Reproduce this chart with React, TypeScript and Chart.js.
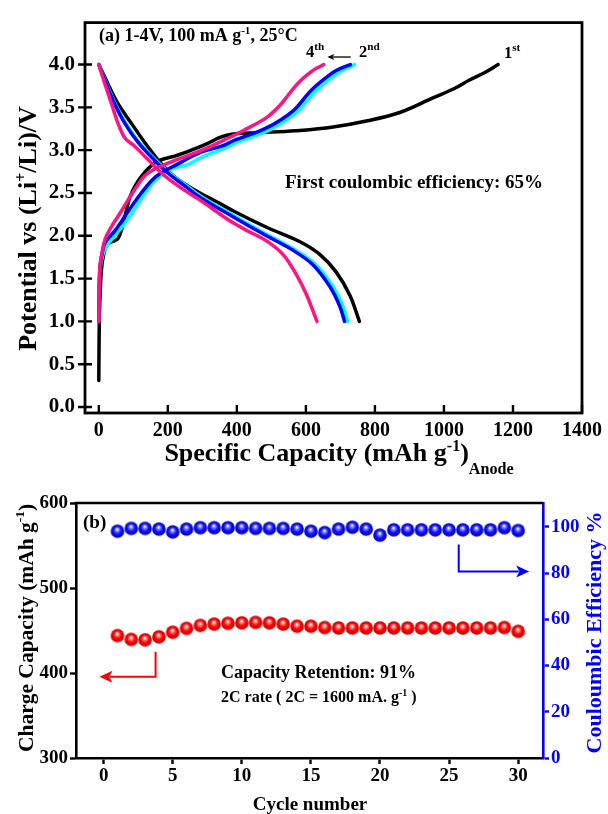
import React, { useEffect, useRef } from "react";
import { Chart, registerables } from "chart.js";
Chart.register(...registerables);

const SERIF = '"Liberation Serif", "Times New Roman", Times, serif';

// ---------------- Panel (a): charge / discharge profiles ----------------
const capTicks = [0, 200, 400, 600, 800, 1000, 1200, 1400];
const voltTicks = [0, 0.5, 1, 1.5, 2, 2.5, 3, 3.5, 4];

// 1st cycle (black)
const c1ChargeCap = [0, 0.5, 1.5, 4, 8, 14, 22, 32, 45, 56, 66, 76, 90, 109, 133, 152, 170, 190, 220, 268, 316, 351, 390, 440, 486, 583, 679, 775, 872, 968, 1030, 1074, 1120, 1157];
const c1ChargeV = [0.31, 0.6, 1.0, 1.35, 1.62, 1.78, 1.88, 1.92, 1.94, 1.97, 2.07, 2.23, 2.45, 2.61, 2.74, 2.82, 2.87, 2.9, 2.93, 3.0, 3.08, 3.15, 3.19, 3.2, 3.21, 3.23, 3.27, 3.34, 3.44, 3.61, 3.72, 3.82, 3.91, 4.0];
const c1DisCap = [0, 27, 56, 95, 133, 177, 205, 240, 293, 340, 390, 486, 583, 641, 689, 728, 755];
const c1DisV = [4.0, 3.77, 3.54, 3.31, 3.09, 2.86, 2.74, 2.63, 2.5, 2.4, 2.29, 2.1, 1.93, 1.78, 1.57, 1.3, 1.0];

// 2nd cycle (cyan)
const c2ChargeCap = [0, 0.5, 1.5, 4, 12, 23, 50, 76, 105, 133, 162, 210, 258, 300, 364, 400, 496, 573, 621, 660, 700, 741];
const c2ChargeV = [1.0, 1.22, 1.42, 1.62, 1.78, 1.88, 2.02, 2.15, 2.32, 2.49, 2.64, 2.78, 2.83, 2.92, 3.02, 3.09, 3.24, 3.44, 3.66, 3.8, 3.92, 4.0];
const c2DisCap = [0, 23, 48, 79, 117, 166, 206, 256, 300, 398, 494, 571, 630, 678, 707, 721];
const c2DisV = [4.0, 3.77, 3.54, 3.31, 3.09, 2.88, 2.73, 2.58, 2.45, 2.22, 2.0, 1.83, 1.66, 1.41, 1.18, 1.0];

// 3rd cycle (blue)
const c3ChargeCap = [0, 0.5, 1.5, 4, 10, 18, 47, 76, 105, 133, 162, 201, 220, 293, 364, 390, 486, 563, 611, 650, 688, 729];
const c3ChargeV = [1.0, 1.25, 1.45, 1.65, 1.8, 1.92, 2.06, 2.23, 2.4, 2.55, 2.68, 2.78, 2.82, 2.97, 3.06, 3.11, 3.26, 3.46, 3.68, 3.82, 3.93, 4.0];
const c3DisCap = [0, 22, 46, 76, 114, 162, 201, 250, 293, 390, 486, 563, 621, 669, 698, 712];
const c3DisV = [4.0, 3.77, 3.54, 3.31, 3.09, 2.88, 2.73, 2.58, 2.45, 2.22, 2.0, 1.83, 1.66, 1.41, 1.18, 1.0];

// 4th cycle (pink)
const c4ChargeCap = [0, 0.5, 1.5, 4, 8, 18, 37, 61, 85, 109, 133, 162, 191, 220, 268, 316, 364, 419, 486, 524, 550, 572, 592, 610, 628, 642, 652];
const c4ChargeV = [1.0, 1.25, 1.5, 1.68, 1.77, 1.96, 2.11, 2.26, 2.42, 2.57, 2.7, 2.78, 2.83, 2.88, 2.95, 3.03, 3.12, 3.23, 3.38, 3.52, 3.65, 3.76, 3.84, 3.9, 3.95, 3.98, 4.0];
const c4DisCap = [0, 18, 37, 56, 76, 100, 133, 162, 191, 249, 307, 374, 430, 486, 534, 572, 601, 632];
const c4DisV = [4.0, 3.77, 3.54, 3.31, 3.14, 3.06, 2.93, 2.81, 2.7, 2.53, 2.38, 2.19, 2.06, 1.94, 1.78, 1.55, 1.32, 1.0];

// "4th <- 2nd" arrow (data coordinates)
const cycleArrowCap = [730, 662];
const cycleArrowV = [4.088, 4.088];

// ---------------- Panel (b): cycling ----------------
const cycles = [1, 2, 3, 4, 5, 6, 7, 8, 9, 10, 11, 12, 13, 14, 15, 16, 17, 18, 19, 20, 21, 22, 23, 24, 25, 26, 27, 28, 29, 30];
const chargeCapacity = [444, 439.5, 439, 442.5, 448, 452.5, 456, 457.5, 458.5, 459, 459.5, 459, 457.5, 455, 455, 453.5, 453, 453, 453, 453, 453, 453, 453, 453, 453, 453, 453, 453, 453.5, 449];
const coulombicEff = [98.1, 99.3, 99.3, 99.0, 97.8, 99.0, 99.6, 99.6, 99.6, 99.6, 99.3, 99.3, 99.3, 99.0, 98.1, 97.5, 99.0, 99.8, 99.0, 96.4, 98.7, 98.7, 98.7, 98.7, 98.7, 98.7, 98.7, 98.7, 99.6, 98.4];
const cycleTicks = [0, 5, 10, 15, 20, 25, 30];
const capAxisTicks = [300, 400, 500, 600];
const ceTicks = [0, 20, 40, 60, 80, 100];

const redArrowCycle = [3.76, 3.76, -0.3];
const redArrowCap = [425, 395.6, 395.6];
const blueArrowCycle = [25.7, 25.7, 30.8];
const blueArrowCE = [92.3, 80.7, 80.7];

// ---------------- helpers ----------------
const PINK = "#ff1482";
const CYAN = "#00ffff";
const BLUE = "#0000ff";
const BLACK = "#000000";

function font(size: number) {
  return `bold ${size}px ${SERIF}`;
}

type Part = { t: string; k?: "sup" | "sub" };

function drawRich(ctx: CanvasRenderingContext2D, parts: Part[], x: number, y: number, size: number, color: string, align = "left", subDy = 0.3, supScale = 0.62) {
  let w = 0;
  for (const p of parts) {
    ctx.font = font(p.k ? size * supScale : size);
    w += ctx.measureText(p.t).width;
  }
  let cx = align === "center" ? x - w / 2 : align === "right" ? x - w : x;
  ctx.fillStyle = color;
  ctx.textAlign = "left";
  ctx.textBaseline = "alphabetic";
  for (const p of parts) {
    const s = p.k ? size * supScale : size;
    ctx.font = font(s);
    const dy = p.k === "sup" ? -size * 0.4 : p.k === "sub" ? size * subDy : 0;
    ctx.fillText(p.t, cx, y + dy);
    cx += ctx.measureText(p.t).width;
  }
}

function drawArrow(ctx: CanvasRenderingContext2D, pts: number[][], color: string, lw: number, headLen: number, headW: number) {
  const n = pts.length;
  const [tx, ty] = pts[n - 1];
  const [px, py] = pts[n - 2];
  const ang = Math.atan2(ty - py, tx - px);
  const bx = tx - Math.cos(ang) * headLen * 0.8;
  const by = ty - Math.sin(ang) * headLen * 0.8;
  ctx.save();
  ctx.strokeStyle = color;
  ctx.fillStyle = color;
  ctx.lineWidth = lw;
  ctx.lineCap = "butt";
  ctx.beginPath();
  ctx.moveTo(pts[0][0], pts[0][1]);
  for (let i = 1; i < n - 1; i++) ctx.lineTo(pts[i][0], pts[i][1]);
  ctx.lineTo(bx, by);
  ctx.stroke();
  ctx.beginPath();
  ctx.moveTo(tx, ty);
  ctx.lineTo(tx - Math.cos(ang) * headLen + Math.sin(ang) * headW, ty - Math.sin(ang) * headLen - Math.cos(ang) * headW);
  ctx.lineTo(tx - Math.cos(ang) * headLen * 0.75, ty - Math.sin(ang) * headLen * 0.75);
  ctx.lineTo(tx - Math.cos(ang) * headLen - Math.sin(ang) * headW, ty - Math.sin(ang) * headLen + Math.cos(ang) * headW);
  ctx.closePath();
  ctx.fill();
  ctx.restore();
}

function makeSphere(r: number, light: string, base: string, dark: string) {
  const size = Math.ceil(r * 2) + 2;
  const c = document.createElement("canvas");
  c.width = size;
  c.height = size;
  const g = c.getContext("2d") as CanvasRenderingContext2D;
  const cx = size / 2;
  const cy = size / 2;
  const grad = g.createRadialGradient(cx - r * 0.05, cy - r * 0.3, r * 0.05, cx, cy, r);
  grad.addColorStop(0, "#ffffff");
  grad.addColorStop(0.22, light);
  grad.addColorStop(0.55, base);
  grad.addColorStop(1, dark);
  g.fillStyle = grad;
  g.beginPath();
  g.arc(cx, cy, r, 0, Math.PI * 2);
  g.fill();
  return c;
}

function pairs(xs: number[], ys: number[]) {
  return xs.map((x, i) => ({ x, y: ys[i] }));
}

function lineDs(xs: number[], ys: number[], color: string) {
  return {
    data: pairs(xs, ys),
    showLine: true,
    borderColor: color,
    backgroundColor: color,
    borderWidth: 3.5,
    pointRadius: 0,
    tension: 0.35,
    borderCapStyle: "round",
    borderJoinStyle: "round",
  };
}

const topPlugin = {
  id: "topDecor",
  afterDraw(chart: any) {
    const ctx = chart.ctx as CanvasRenderingContext2D;
    const ca = chart.chartArea;
    const xs = chart.scales.x;
    const ys = chart.scales.y;
    ctx.save();
    ctx.strokeStyle = BLACK;
    ctx.lineWidth = 2.8;
    ctx.strokeRect(ca.left, ca.top, ca.right - ca.left, ca.bottom - ca.top);
    ctx.lineWidth = 2.4;
    ctx.beginPath();
    for (const v of capTicks) {
      const p = xs.getPixelForValue(v);
      ctx.moveTo(p, ca.bottom);
      ctx.lineTo(p, ca.bottom - 8);
    }
    for (const v of voltTicks) {
      const p = ys.getPixelForValue(v);
      ctx.moveTo(ca.left - 7, p);
      ctx.lineTo(ca.left + 7, p);
    }
    ctx.stroke();

    drawRich(ctx, [{ t: "(a) 1-4V, 100 mA g" }, { t: "-1", k: "sup" }, { t: ", 25°C" }], 99, 41, 18, BLACK);
    drawRich(ctx, [{ t: "4" }, { t: "th", k: "sup" }], 306, 57, 16.5, BLACK, "left", 0.3, 0.68);
    drawRich(ctx, [{ t: "2" }, { t: "nd", k: "sup" }], 359, 57, 16.5, BLACK, "left", 0.3, 0.68);
    drawRich(ctx, [{ t: "1" }, { t: "st", k: "sup" }], 504, 58, 16.5, BLACK, "left", 0.3, 0.68);
    drawRich(ctx, [{ t: "First coulombic efficiency: 65%" }], 285, 188, 19, BLACK);

    const a0 = [xs.getPixelForValue(cycleArrowCap[0]), ys.getPixelForValue(cycleArrowV[0])];
    const a1 = [xs.getPixelForValue(cycleArrowCap[1]), ys.getPixelForValue(cycleArrowV[1])];
    drawArrow(ctx, [a0, a1], BLACK, 1.3, 7, 3);

    drawRich(ctx, [{ t: "Specific Capacity (mAh g" }, { t: "-1", k: "sup" }, { t: ")" }, { t: "Anode", k: "sub" }], 339, 461, 26, BLACK, "center", 0.5);

    ctx.save();
    ctx.translate(36, 228.5);
    ctx.rotate(-Math.PI / 2);
    drawRich(ctx, [{ t: "Potential vs (Li" }, { t: "+", k: "sup" }, { t: "/Li)/V" }], 0, 0, 26, BLACK, "center");
    ctx.restore();
    ctx.restore();
  },
};

const bottomPlugin = {
  id: "bottomDecor",
  afterDraw(chart: any) {
    const ctx = chart.ctx as CanvasRenderingContext2D;
    const ca = chart.chartArea;
    const xs = chart.scales.x;
    const yl = chart.scales.y;
    const yr = chart.scales.y1;
    ctx.save();
    ctx.strokeStyle = BLACK;
    ctx.lineWidth = 2.6;
    ctx.beginPath();
    ctx.moveTo(ca.left - 1.3, ca.top);
    ctx.lineTo(ca.right, ca.top);
    ctx.stroke();

    const redPts = redArrowCycle.map((c, i) => [xs.getPixelForValue(c), yl.getPixelForValue(redArrowCap[i])]);
    drawArrow(ctx, redPts, "#ff0000", 2, 13, 6);
    const bluePts = blueArrowCycle.map((c, i) => [xs.getPixelForValue(c), yr.getPixelForValue(blueArrowCE[i])]);
    drawArrow(ctx, bluePts, BLUE, 2, 13, 6);

    drawRich(ctx, [{ t: "(b)" }], 83, 48, 19, BLACK);
    drawRich(ctx, [{ t: "Capacity Retention: 91%" }], 221, 198, 18, BLACK);
    drawRich(ctx, [{ t: "2C rate ( 2C = 1600 mA. g" }, { t: "-1", k: "sup" }, { t: " )" }], 221, 222, 16, BLACK);
    drawRich(ctx, [{ t: "Cycle number" }], 310, 330, 19, BLACK, "center");

    ctx.save();
    ctx.translate(33, 148);
    ctx.rotate(-Math.PI / 2);
    drawRich(ctx, [{ t: "Charge Capacity (mAh g" }, { t: "-1", k: "sup" }, { t: ")" }], 0, 0, 21.5, BLACK, "center");
    ctx.restore();

    ctx.save();
    ctx.translate(601, 152.5);
    ctx.rotate(-Math.PI / 2);
    drawRich(ctx, [{ t: "Couloumbic Efficiency %" }], 0, 0, 22, BLUE, "center");
    ctx.restore();
    ctx.restore();
  },
};

function topConfig(): any {
  return {
    type: "scatter",
    data: {
      datasets: [
        lineDs(c4ChargeCap, c4ChargeV, PINK),
        lineDs(c4DisCap, c4DisV, PINK),
        lineDs(c3ChargeCap, c3ChargeV, BLUE),
        lineDs(c3DisCap, c3DisV, BLUE),
        lineDs(c2ChargeCap, c2ChargeV, CYAN),
        lineDs(c2DisCap, c2DisV, CYAN),
        lineDs(c1ChargeCap, c1ChargeV, BLACK),
        lineDs(c1DisCap, c1DisV, BLACK),
      ],
    },
    options: {
      animation: false,
      responsive: false,
      maintainAspectRatio: false,
      layout: { padding: { top: 15, right: 25, bottom: 0, left: 0 } },
      plugins: { legend: { display: false }, tooltip: { enabled: false } },
      scales: {
        x: {
          type: "linear",
          min: -40,
          max: 1400,
          afterBuildTicks: (s: any) => {
            s.ticks = capTicks.map((v) => ({ value: v }));
          },
          afterFit: (s: any) => {
            s.height = 67;
          },
          grid: { display: false, drawTicks: false },
          border: { display: false },
          ticks: {
            font: { family: SERIF, size: 20, weight: "bold" },
            color: BLACK,
            padding: 6,
            maxRotation: 0,
            autoSkip: false,
            callback: (v: any) => String(v),
          },
        },
        y: {
          type: "linear",
          min: -0.07,
          max: 4.49,
          afterBuildTicks: (s: any) => {
            s.ticks = voltTicks.map((v) => ({ value: v }));
          },
          afterFit: (s: any) => {
            s.width = 85;
          },
          grid: { display: false, drawTicks: false },
          border: { display: false },
          ticks: {
            font: { family: SERIF, size: 21, weight: "bold" },
            color: BLACK,
            padding: 10,
            autoSkip: false,
            callback: (v: any) => Number(v).toFixed(1),
          },
        },
      },
    },
    plugins: [topPlugin],
  };
}

function bottomConfig(): any {
  const redSphere = makeSphere(6.8, "#ff8080", "#ff0000", "#c80000");
  const blueSphere = makeSphere(6.8, "#8080ff", "#1010ff", "#0000b4");
  const tickFont = { family: SERIF, size: 19, weight: "bold" };
  return {
    type: "scatter",
    data: {
      datasets: [
        {
          data: pairs(cycles, coulombicEff),
          yAxisID: "y1",
          pointStyle: blueSphere,
          pointRadius: 7,
          showLine: false,
        },
        {
          data: pairs(cycles, chargeCapacity),
          yAxisID: "y",
          pointStyle: redSphere,
          pointRadius: 7,
          showLine: false,
        },
      ],
    },
    options: {
      animation: false,
      responsive: false,
      maintainAspectRatio: false,
      layout: { padding: { top: 23, right: 0, bottom: 0, left: 0 } },
      plugins: { legend: { display: false }, tooltip: { enabled: false } },
      scales: {
        x: {
          type: "linear",
          min: -2,
          max: 31.8,
          afterBuildTicks: (s: any) => {
            s.ticks = cycleTicks.map((v) => ({ value: v }));
          },
          afterFit: (s: any) => {
            s.height = 56;
          },
          grid: { display: true, drawOnChartArea: false, drawTicks: true, tickLength: 6, tickWidth: 2.4, tickColor: BLACK },
          border: { display: true, width: 2.6, color: BLACK },
          ticks: { font: tickFont, color: BLACK, padding: 1, maxRotation: 0, autoSkip: false, callback: (v: any) => String(v) },
        },
        y: {
          type: "linear",
          position: "left",
          min: 300,
          max: 600,
          afterBuildTicks: (s: any) => {
            s.ticks = capAxisTicks.map((v) => ({ value: v }));
          },
          afterFit: (s: any) => {
            s.width = 76;
          },
          grid: { display: true, drawOnChartArea: false, drawTicks: true, tickLength: 6, tickWidth: 2.4, tickColor: BLACK },
          border: { display: true, width: 2.6, color: BLACK },
          ticks: { font: tickFont, color: BLACK, padding: 2, autoSkip: false, callback: (v: any) => String(v) },
        },
        y1: {
          type: "linear",
          position: "right",
          min: 0,
          max: 110.3,
          afterBuildTicks: (s: any) => {
            s.ticks = ceTicks.map((v) => ({ value: v }));
          },
          afterFit: (s: any) => {
            s.width = 65;
          },
          grid: { display: true, drawOnChartArea: false, drawTicks: true, tickLength: 6, tickWidth: 2.4, tickColor: BLUE },
          border: { display: true, width: 2.6, color: BLUE },
          ticks: { font: tickFont, color: BLUE, padding: 2, autoSkip: false, callback: (v: any) => String(v) },
        },
      },
    },
    plugins: [bottomPlugin],
  };
}

export default function App() {
  const topRef = useRef<HTMLCanvasElement | null>(null);
  const botRef = useRef<HTMLCanvasElement | null>(null);
  useEffect(() => {
    const top = new Chart(topRef.current as HTMLCanvasElement, topConfig());
    const bot = new Chart(botRef.current as HTMLCanvasElement, bottomConfig());
    return () => {
      top.destroy();
      bot.destroy();
    };
  }, []);
  return (
    <div style={{ position: "absolute", left: 0, top: 0, width: 608, height: 814, background: "#ffffff" }}>
      <canvas ref={topRef} width={608} height={480} style={{ position: "absolute", left: 0, top: 0, width: 608, height: 480 }} />
      <canvas ref={botRef} width={608} height={334} style={{ position: "absolute", left: 0, top: 480, width: 608, height: 334 }} />
    </div>
  );
}
